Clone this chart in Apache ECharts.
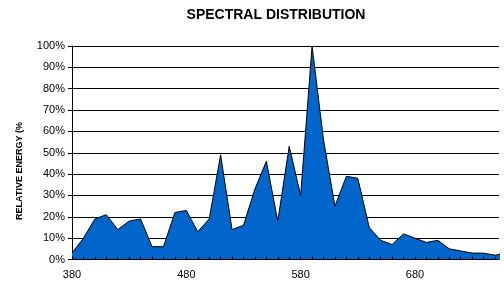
<!DOCTYPE html>
<html>
<head>
<meta charset="utf-8">
<script src="https://cdn.jsdelivr.net/npm/echarts@6/dist/echarts.min.js"></script>
<style>
html, body { margin: 0; padding: 0; background: #fff; }
#chart { width: 504px; height: 283px; }
</style>
</head>
<body>
<div id="chart"></div>
<script>
// wavelength (nm) and relative energy (%)
var wavelengths = [380, 390, 400, 410, 420, 430, 440, 450, 460, 470,
    480, 490, 500, 510, 520, 530, 540, 550, 560, 570,
    580, 590, 600, 610, 620, 630, 640, 650, 660, 670,
    680, 690, 700, 710, 720, 730, 740, 750, 760];
var energy = [3, 10, 19, 21, 14, 18, 19, 6, 6, 22,
    23, 13, 19, 49, 14, 16, 33, 46, 18, 53,
    30, 100, 56, 25, 39, 38, 15, 9, 7, 12,
    10, 8, 9, 5, 4, 3, 3, 2, 3];
var xLabels = [380, 480, 580, 680];

var chart = echarts.init(document.getElementById('chart'));

var points = [];
for (var i = 0; i < wavelengths.length; i++) {
    points.push([wavelengths[i], energy[i]]);
}

var option = {
    animation: false,
    title: {
        text: 'SPECTRAL DISTRIBUTION',
        left: 271,
        top: 3,
        textAlign: 'center',
        textStyle: {
            fontFamily: 'Liberation Sans',
            fontSize: 14,
            fontWeight: 'bold',
            color: '#000'
        }
    },
    graphic: [{
        type: 'text',
        x: 20,
        y: 171,
        rotation: Math.PI / 2,
        style: {
            text: 'RELATIVE ENERGY (%',
            fontFamily: 'Liberation Sans',
            fontSize: 9,
            fontWeight: 'bold',
            fill: '#000',
            textAlign: 'center',
            textVerticalAlign: 'middle'
        }
    }],
    grid: {
        left: 72,
        right: 5,
        top: 46,
        bottom: 23.5
    },
    xAxis: {
        type: 'value',
        min: 380,
        max: 753.5,
        z: 5,
        axisLine: { show: true, onZero: false, lineStyle: { color: '#000', width: 1 } },
        axisTick: {
            show: true,
            inside: true,
            length: 3,
            customValues: wavelengths,
            lineStyle: { color: '#000' }
        },
        axisLabel: {
            customValues: xLabels,
            color: '#000',
            fontFamily: 'Liberation Sans',
            fontSize: 11,
            margin: 10
        },
        splitLine: { show: false }
    },
    yAxis: {
        type: 'value',
        min: 0,
        max: 100,
        interval: 10,
        axisLine: { show: true, lineStyle: { color: '#000', width: 1 } },
        axisTick: { show: true, length: 4, lineStyle: { color: '#000' } },
        axisLabel: {
            formatter: '{value}%',
            color: '#000',
            fontFamily: 'Liberation Sans',
            fontSize: 11,
            margin: 7
        },
        splitLine: { show: true, lineStyle: { color: '#000', width: 1 } }
    },
    series: [{
        type: 'line',
        data: points,
        symbol: 'none',
        clip: true,
        lineStyle: { color: '#000', width: 1 },
        areaStyle: { color: '#0066CC', opacity: 1 },
        z: 3
    }]
};
chart.setOption(option);
</script>
</body>
</html>
